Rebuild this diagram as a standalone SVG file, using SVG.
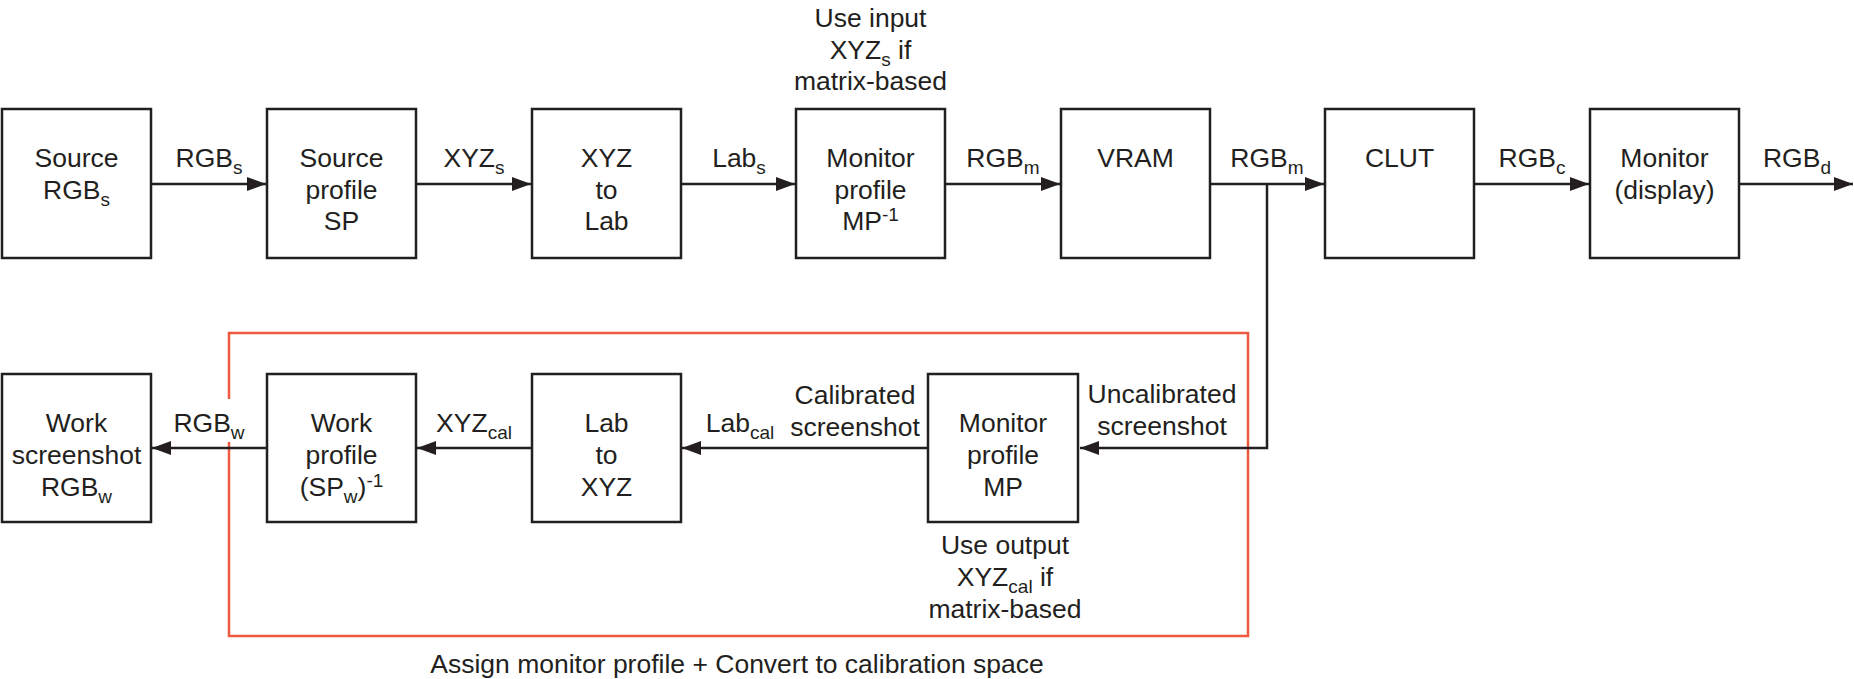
<svg xmlns="http://www.w3.org/2000/svg" width="1854" height="679" viewBox="0 0 1854 679">
<style>
  text { font-family: "Liberation Sans", Arial, Helvetica, sans-serif; font-size: 26.5px; fill: #231f20; text-anchor: middle; }
  .sub, .sup { font-size: 19px; }
  .box { fill: #ffffff; stroke: #231f20; stroke-width: 2.5; }
  .wire { fill: none; stroke: #231f20; stroke-width: 2.5; }
  .frame { fill: none; stroke: #ee5a3d; stroke-width: 2.5; }
</style>
<defs>
  <marker id="arrow" markerUnits="userSpaceOnUse" markerWidth="20" markerHeight="16" refX="19" refY="7" orient="auto">
    <polygon points="0,0 19,7 0,14" fill="#231f20"/>
  </marker>
</defs>
<rect width="1854" height="679" fill="#ffffff"/>

<path class="frame" d="M229,399 V333 H1248 V636 H229 V442"/>

<g id="connectors">
  <line class="wire" x1="151" y1="184" x2="266" y2="184" marker-end="url(#arrow)"/>
  <line class="wire" x1="416" y1="184" x2="531" y2="184" marker-end="url(#arrow)"/>
  <line class="wire" x1="681" y1="184" x2="795" y2="184" marker-end="url(#arrow)"/>
  <line class="wire" x1="945" y1="184" x2="1060" y2="184" marker-end="url(#arrow)"/>
  <line class="wire" x1="1210" y1="184" x2="1324" y2="184" marker-end="url(#arrow)"/>
  <line class="wire" x1="1474" y1="184" x2="1589" y2="184" marker-end="url(#arrow)"/>
  <line class="wire" x1="1739" y1="184" x2="1853" y2="184" marker-end="url(#arrow)"/>
  <path class="wire" d="M1267,184 V448 H1080" marker-end="url(#arrow)"/>
  <line class="wire" x1="928" y1="448" x2="682" y2="448" marker-end="url(#arrow)"/>
  <line class="wire" x1="532" y1="448" x2="417" y2="448" marker-end="url(#arrow)"/>
  <line class="wire" x1="267" y1="448" x2="152" y2="448" marker-end="url(#arrow)"/>

  <text x="209" y="167">RGB<tspan class="sub" dy="7">s</tspan></text>
  <text x="474" y="167">XYZ<tspan class="sub" dy="7">s</tspan></text>
  <text x="739" y="167">Lab<tspan class="sub" dy="7">s</tspan></text>
  <text x="1003" y="167">RGB<tspan class="sub" dy="7">m</tspan></text>
  <text x="1267" y="167">RGB<tspan class="sub" dy="7">m</tspan></text>
  <text x="1532" y="167">RGB<tspan class="sub" dy="7">c</tspan></text>
  <text x="1797" y="167">RGB<tspan class="sub" dy="7">d</tspan></text>

  <text x="209" y="432">RGB<tspan class="sub" dy="7">w</tspan></text>
  <text x="474" y="432">XYZ<tspan class="sub" dy="7">cal</tspan></text>
  <text x="740" y="432">Lab<tspan class="sub" dy="7">cal</tspan></text>
  <text x="855" y="404">Calibrated</text>
  <text x="855" y="436">screenshot</text>
  <text x="1162" y="403">Uncalibrated</text>
  <text x="1162" y="435">screenshot</text>
</g>

<g id="n-source">
  <rect class="box" x="2" y="109" width="149" height="149"/>
  <text x="76.5" y="167">Source</text>
  <text x="76.5" y="199">RGB<tspan class="sub" dy="7">s</tspan></text>
</g>
<g id="n-source-profile">
  <rect class="box" x="267" y="109" width="149" height="149"/>
  <text x="341.5" y="167">Source</text>
  <text x="341.5" y="199">profile</text>
  <text x="341.5" y="230">SP</text>
</g>
<g id="n-xyz-lab">
  <rect class="box" x="532" y="109" width="149" height="149"/>
  <text x="606.5" y="167">XYZ</text>
  <text x="606.5" y="199">to</text>
  <text x="606.5" y="230">Lab</text>
</g>
<g id="n-monitor-profile-inv">
  <rect class="box" x="796" y="109" width="149" height="149"/>
  <text x="870.5" y="167">Monitor</text>
  <text x="870.5" y="199">profile</text>
  <text x="870.5" y="230">MP<tspan class="sup" dy="-9">-1</tspan></text>
  <text x="870.5" y="27">Use input</text>
  <text x="870.5" y="59">XYZ<tspan class="sub" dy="7">s</tspan><tspan dy="-7"> if</tspan></text>
  <text x="870.5" y="90">matrix-based</text>
</g>
<g id="n-vram">
  <rect class="box" x="1061" y="109" width="149" height="149"/>
  <text x="1135.5" y="167">VRAM</text>
</g>
<g id="n-clut">
  <rect class="box" x="1325" y="109" width="149" height="149"/>
  <text x="1399.5" y="167">CLUT</text>
</g>
<g id="n-monitor-display">
  <rect class="box" x="1590" y="109" width="149" height="149"/>
  <text x="1664.5" y="167">Monitor</text>
  <text x="1664.5" y="199">(display)</text>
</g>

<g id="n-work-screenshot">
  <rect class="box" x="2" y="374" width="149" height="148"/>
  <text x="76.5" y="432">Work</text>
  <text x="76.5" y="464">screenshot</text>
  <text x="76.5" y="496">RGB<tspan class="sub" dy="7">w</tspan></text>
</g>
<g id="n-work-profile">
  <rect class="box" x="267" y="374" width="149" height="148"/>
  <text x="341.5" y="432">Work</text>
  <text x="341.5" y="464">profile</text>
  <text x="341.5" y="496">(SP<tspan class="sub" dy="7">w</tspan><tspan dy="-7">)</tspan><tspan class="sup" dy="-9">-1</tspan></text>
</g>
<g id="n-lab-xyz">
  <rect class="box" x="532" y="374" width="149" height="148"/>
  <text x="606.5" y="432">Lab</text>
  <text x="606.5" y="464">to</text>
  <text x="606.5" y="496">XYZ</text>
</g>
<g id="n-monitor-profile">
  <rect class="box" x="928" y="374" width="150" height="148"/>
  <text x="1003" y="432">Monitor</text>
  <text x="1003" y="464">profile</text>
  <text x="1003" y="496">MP</text>
  <text x="1005" y="554">Use output</text>
  <text x="1005" y="586">XYZ<tspan class="sub" dy="7">cal</tspan><tspan dy="-7"> if</tspan></text>
  <text x="1005" y="618">matrix-based</text>
</g>

<g id="caption">
  <text x="737" y="673">Assign monitor profile + Convert to calibration space</text>
</g>
</svg>
